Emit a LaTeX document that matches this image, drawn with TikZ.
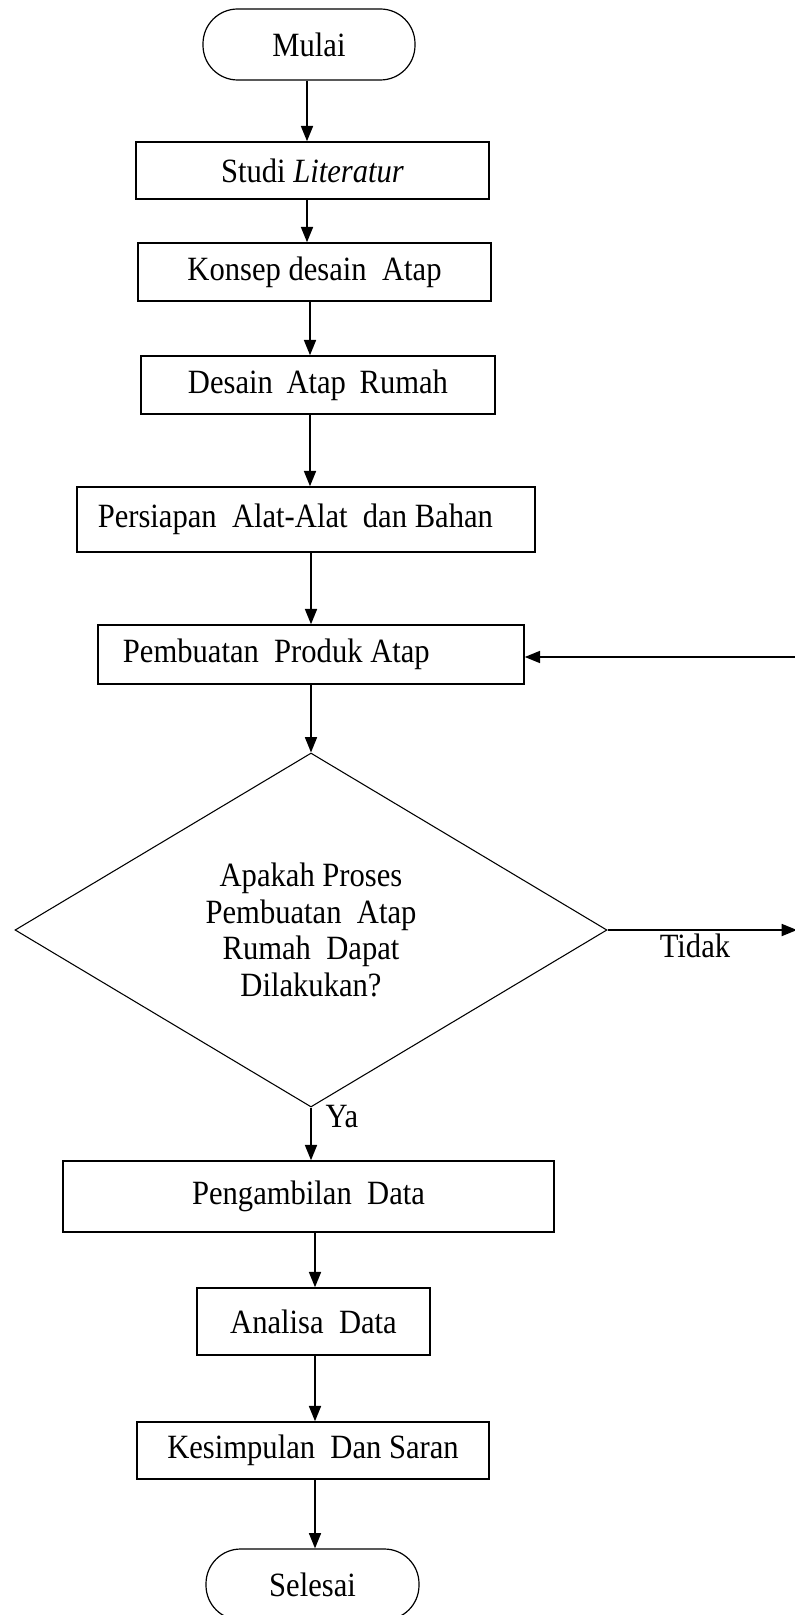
\documentclass[tikz,border=0pt]{standalone}
\usepackage{fontspec}
\setmainfont{Liberation Serif}[FakeStretch=0.9]
\usetikzlibrary{shapes.geometric,arrows.meta}

\tikzset{
  procbox/.style={draw, rectangle, line width=1.1pt, inner sep=0pt, font=\fontsize{25.5}{27.5}\selectfont},
  termbox/.style={draw, rectangle, rounded corners=26pt, line width=0.9pt, inner sep=0pt, font=\fontsize{25.5}{27.5}\selectfont},
  decbox/.style={draw, diamond, line width=0.8pt, inner sep=0pt, align=center, font=\fontsize{25.5}{27.5}\selectfont},
  flowarrow/.style={-{Triangle[length=11.5pt,width=9pt]}, line width=1.3pt},
  lbl/.style={inner sep=0.75pt, font=\fontsize{25.5}{27.5}\selectfont}
}

\begin{document}
\begin{tikzpicture}[x=0.75pt,y=0.75pt,yscale=-1,xscale=1]
\useasboundingbox (0,0) rectangle (794,1615);

%Flowchart: Terminator
\node (mulai) at (309,44.5) [termbox, minimum width=159pt, minimum height=53.25pt] {Mulai};
%Flowchart: Process
\node (studi) at (312.5,170.5) [procbox, minimum width=264.75pt, minimum height=42.75pt] {Studi \textit{Literatur}};
%Flowchart: Process
\node (konsep) at (314.5,272) [procbox, minimum width=264.75pt, minimum height=43.5pt] {Konsep desain\ \ Atap};
%Flowchart: Process
\node (desain) at (318,385) [procbox, minimum width=265.5pt, minimum height=43.5pt] {Desain\hspace{0.4em}Atap\hspace{0.4em}Rumah};
%Flowchart: Process
\node (persiapan) at (306,519.5) [procbox, minimum width=343.5pt, minimum height=48.75pt] {Persiapan\ \ Alat-Alat\ \ dan Bahan\hspace*{16pt}};
%Flowchart: Process
\node (pembuatan) at (311,654.5) [procbox, minimum width=319.5pt, minimum height=44.25pt] {Pembuatan\ \ Produk Atap\hspace*{52pt}};
%Flowchart: Decision
\node (cek) at (311,930) [decbox, minimum width=444pt, minimum height=265.5pt] {Apakah Proses\\Pembuatan\ \ Atap\\Rumah\ \ Dapat\\Dilakukan?};
%Flowchart: Process
\node (pengambilan) at (308.5,1196.5) [procbox, minimum width=368.25pt, minimum height=53.25pt] {Pengambilan\ \ Data};
%Flowchart: Process
\node (analisa) at (313.5,1321.5) [procbox, minimum width=174.75pt, minimum height=50.25pt] {Analisa\ \ Data};
%Flowchart: Process
\node (kesimpulan) at (313,1450.5) [procbox, minimum width=264pt, minimum height=42.75pt] {Kesimpulan\ \ Dan Saran};
%Flowchart: Terminator
\node (selesai) at (312.5,1584.5) [termbox, minimum width=159.75pt, minimum height=53.25pt] {Selesai};

%Arrow columns and loop ends
\coordinate (axistop) at (307,0);
\coordinate (axismid) at (310,0);
\coordinate (axisbot) at (315,0);
\coordinate (tidakend) at (797,932);
\coordinate (loopin) at (800,657);

%Straight Lines
\draw [flowarrow] (mulai.south -| axistop) -- (studi.north -| axistop);
\draw [flowarrow] (studi.south -| axistop) -- (konsep.north -| axistop);
\draw [flowarrow] (konsep.south -| axismid) -- (desain.north -| axismid);
\draw [flowarrow] (desain.south -| axismid) -- (persiapan.north -| axismid);
\draw [flowarrow] (persiapan.south -| pembuatan.north) -- (pembuatan.north);
\draw [flowarrow] (pembuatan.south -| cek.north) -- (cek.north);
\draw [flowarrow] (cek.east) -- (cek.east -| tidakend);
\draw [flowarrow] (loopin) -- (pembuatan.east |- loopin);
\draw [flowarrow] (cek.south) -- (pengambilan.north -| cek.south);
\draw [flowarrow] (pengambilan.south -| axisbot) -- (analisa.north -| axisbot);
\draw [flowarrow] (analisa.south -| axisbot) -- (kesimpulan.north -| axisbot);
\draw [flowarrow] (kesimpulan.south -| axisbot) -- (selesai.north -| axisbot);

% Text Node
\node (tidak) at (695,946) [lbl] {Tidak};
% Text Node
\node (ya) at (342,1117) [lbl] {Ya};

\end{tikzpicture}
\end{document}
